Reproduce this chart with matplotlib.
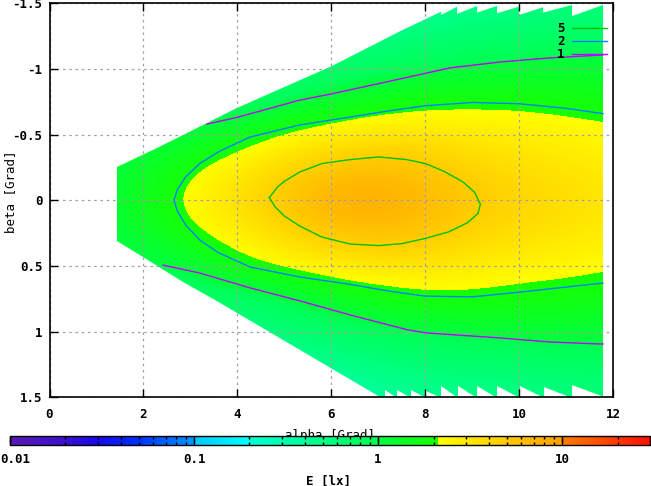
import numpy as np
import matplotlib
matplotlib.use('Agg')
import matplotlib.pyplot as plt
from matplotlib.colors import LinearSegmentedColormap, Normalize, LogNorm
from matplotlib.cm import ScalarMappable
from matplotlib.patches import Polygon
from matplotlib.ticker import FixedLocator, FormatStrFormatter, FixedFormatter, NullFormatter

plt.rcParams['font.family'] = ['DejaVu Sans Mono']
plt.rcParams['font.weight'] = 'bold'
plt.rcParams['axes.unicode_minus'] = False

# illuminance E [lx], rows = beta, columns = alpha
alpha_grid = [1, 2, 3, 4, 5, 6, 7, 8, 9, 10, 11, 12]
beta_grid = [-1.5, -1.25, -1.0, -0.75, -0.5, -0.25, 0.0, 0.25, 0.5, 0.75, 1.0, 1.25, 1.5]
E_table = [
    [0.18, 0.21, 0.22, 0.23, 0.26, 0.31, 0.35, 0.40, 0.46, 0.48, 0.54, 0.56],
    [0.25, 0.29, 0.31, 0.33, 0.38, 0.46, 0.54, 0.60, 0.69, 0.72, 0.79, 0.81],
    [0.35, 0.41, 0.45, 0.47, 0.56, 0.72, 0.83, 0.93, 1.05, 1.14, 1.17, 1.17],
    [0.50, 0.60, 0.68, 0.72, 0.93, 1.26, 1.55, 1.82, 1.93, 1.92, 1.80, 1.76],
    [0.72, 0.93, 1.12, 1.51, 2.21, 2.69, 3.16, 3.16, 2.85, 2.69, 2.51, 2.24],
    [1.00, 1.32, 1.95, 2.77, 3.96, 5.25, 5.90, 5.25, 4.17, 3.53, 3.16, 2.75],
    [1.15, 1.55, 2.40, 3.70, 5.50, 7.80, 8.40, 6.70, 5.20, 4.30, 3.72, 3.16],
    [1.00, 1.32, 1.95, 2.77, 3.96, 5.37, 6.10, 5.30, 4.17, 3.53, 3.16, 2.75],
    [0.72, 0.93, 1.12, 1.78, 2.30, 2.75, 3.16, 3.16, 2.85, 2.57, 2.40, 2.16],
    [0.50, 0.63, 0.72, 0.79, 0.98, 1.34, 1.62, 1.91, 1.93, 1.79, 1.72, 1.68],
    [0.35, 0.43, 0.49, 0.50, 0.62, 0.76, 0.89, 1.01, 1.09, 1.13, 1.15, 1.15],
    [0.25, 0.30, 0.35, 0.33, 0.41, 0.48, 0.56, 0.65, 0.69, 0.72, 0.79, 0.81],
    [0.18, 0.22, 0.25, 0.23, 0.28, 0.32, 0.37, 0.43, 0.46, 0.48, 0.54, 0.56],
]

# outline of the area that has data (alpha, beta)
edge_upper = [(1.437, -0.254), (2.288, -0.398), (3.991, -0.703), (6.013, -1.023),
              (7.460, -1.287), (7.993, -1.378), (8.334, -1.436), (8.334, -1.411),
              (8.674, -1.474), (8.674, -1.419), (9.100, -1.480), (9.100, -1.429),
              (9.525, -1.480), (9.525, -1.424), (9.994, -1.474), (9.994, -1.411),
              (10.505, -1.470), (10.505, -1.429), (11.122, -1.487), (11.122, -1.403),
              (11.781, -1.487)]
edge_lower = [(1.437, 0.310), (1.990, 0.432), (2.842, 0.622), (3.523, 0.759),
              (7.141, 1.520), (7.141, 1.445), (7.397, 1.505), (7.397, 1.445),
              (7.695, 1.505), (7.695, 1.445), (8.014, 1.505), (8.014, 1.452),
              (8.334, 1.505), (8.334, 1.414), (8.695, 1.505), (8.695, 1.414),
              (9.100, 1.505), (9.100, 1.414), (9.525, 1.505), (9.525, 1.414),
              (10.015, 1.505), (10.015, 1.414), (10.526, 1.505), (10.526, 1.422),
              (11.122, 1.505), (11.122, 1.407), (11.781, 1.494)]

# iso lines E = 5, 2, 1
iso5_alpha = [4.68, 4.85, 5.0, 5.33, 5.8, 6.4, 7.0, 7.6, 8.0, 8.4, 8.8, 9.05, 9.17,
              9.12, 8.9, 8.5, 8.0, 7.5, 7.0, 6.4, 5.8, 5.33, 5.0, 4.8, 4.68]
iso5_beta = [-0.02, -0.10, -0.145, -0.216, -0.28, -0.31, -0.33, -0.31, -0.28, -0.22, -0.14, -0.06, 0.03,
             0.10, 0.17, 0.24, 0.29, 0.33, 0.345, 0.333, 0.28, 0.197, 0.12, 0.05, -0.02]
iso2_alpha = [11.78, 11.0, 10.0, 9.0, 8.0, 7.2, 6.4, 5.33, 4.27, 3.6, 3.2, 2.9, 2.72, 2.65,
              2.72, 2.9, 3.2, 3.6, 4.27, 5.33, 6.4, 7.2, 8.0, 9.0, 10.0, 11.0, 11.78]
iso2_beta = [-0.66, -0.70, -0.735, -0.745, -0.72, -0.68, -0.634, -0.574, -0.482, -0.37, -0.28, -0.18, -0.08, 0.0,
             0.08, 0.19, 0.303, 0.40, 0.508, 0.584, 0.64, 0.69, 0.73, 0.735, 0.70, 0.66, 0.63]
iso1_up_alpha = [3.35, 4.0, 5.33, 6.0, 7.46, 8.52, 9.59, 10.65, 11.78]
iso1_up_beta = [-0.58, -0.632, -0.763, -0.81, -0.924, -1.008, -1.053, -1.084, -1.107]
iso1_lo_alpha = [2.42, 3.20, 4.27, 5.33, 6.40, 7.63, 8.03, 9.59, 10.65, 11.71, 11.78]
iso1_lo_beta = [0.494, 0.554, 0.667, 0.766, 0.873, 0.987, 1.01, 1.048, 1.079, 1.094, 1.094]

E_min, E_max = 0.01, 30.0
cb_ticks = [0.01, 0.1, 1, 10]
cb_labels = ['', '0.1', '1', '10']

# gnuplot-like palette over log10(E)
def pos(e):
    return (np.log10(e) - np.log10(E_min)) / (np.log10(E_max) - np.log10(E_min))

eps = 1e-4
stops = [
    (0.0, '#5a1ab4'), (pos(0.02), '#3a10cf'), (pos(0.03), '#1a08e8'), (pos(0.05), '#0030ff'),
    (pos(0.1) - eps, '#0098ff'), (pos(0.1), '#00c8ff'), (pos(0.2), '#00ffff'),
    (pos(0.2) + eps, '#00ffd0'), (pos(1.0) - eps, '#00ff50'), (pos(1.0), '#00ff40'),
    (pos(2.1) - eps, '#18ff00'), (pos(2.1), '#ffff00'), (pos(10.0) - eps, '#ffa000'),
    (pos(10.0), '#ff7c00'), (1.0, '#ff1000'),
]
cmap = LinearSegmentedColormap.from_list('gp', stops, N=1024)

W, H = 651, 486
fig = plt.figure(figsize=(W / 100, H / 100), dpi=100)
ax = fig.add_axes([49.5 / W, 1 - 397.3 / H, 563.8 / W, 394 / H])

da = alpha_grid[1] - alpha_grid[0]
db = beta_grid[1] - beta_grid[0]
extent = [alpha_grid[0] - da / 2, alpha_grid[-1] + da / 2,
          beta_grid[0] - db / 2, beta_grid[-1] + db / 2]
logE = np.log10(np.array(E_table))
im = ax.imshow(logE, origin='lower', extent=extent, aspect='auto', cmap=cmap,
               norm=Normalize(np.log10(E_min), np.log10(E_max)),
               interpolation='bicubic', interpolation_stage='data', zorder=0)
outline = edge_upper + [(11.781, 1.6)] + edge_lower[::-1]
clip = Polygon(outline, closed=True, transform=ax.transData)
im.set_clip_path(clip)

l5, = ax.plot(iso5_alpha, iso5_beta, color='#00c000', lw=1.0, label='5')
l2, = ax.plot(iso2_alpha, iso2_beta, color='#0080ff', lw=1.0, label='2')
l1, = ax.plot(iso1_up_alpha, iso1_up_beta, color='#c000ff', lw=1.0, label='1')
ax.plot(iso1_lo_alpha, iso1_lo_beta, color='#c000ff', lw=1.0)

ax.set_xlim(0, 12)
ax.set_ylim(1.5, -1.5)
ax.xaxis.set_major_locator(FixedLocator([0, 2, 4, 6, 8, 10, 12]))
ax.yaxis.set_major_locator(FixedLocator([-1.5, -1, -0.5, 0, 0.5, 1, 1.5]))
ax.xaxis.set_major_formatter(FormatStrFormatter('%g'))
ax.yaxis.set_major_formatter(FormatStrFormatter('%g'))
ax.tick_params(direction='in', length=6, width=1, top=True, right=False,
               labelsize=9, colors='black')
ax.tick_params(axis='x', pad=8)
ax.tick_params(axis='y', pad=5)
ax.grid(True, color='#a0a0a0', linestyle=(0, (2, 3)), linewidth=0.9)
for s in ax.spines.values():
    s.set_linewidth(1.2)

ax.set_xlabel('alpha [Grad]', fontsize=9, va='center')
ax.xaxis.set_label_coords(0.4975, -0.096)
ax.set_ylabel('beta [Grad]', fontsize=9, va='center')
ax.yaxis.set_label_coords(-0.069, 0.521)

leg = ax.legend(handles=[l5, l2, l1], loc='upper right', bbox_to_anchor=(0.9888, 0.9525),
                frameon=False, markerfirst=False, handlelength=2.8, handletextpad=0.6,
                labelspacing=0.0, borderpad=0, borderaxespad=0, fontsize=9)

# colour box
cax = fig.add_axes([10 / W, 1 - 445 / H, 640 / W, 9 / H])
sm = ScalarMappable(norm=LogNorm(E_min, E_max), cmap=cmap)
cb = fig.colorbar(sm, cax=cax, orientation='horizontal')
cb.outline.set_linewidth(1.0)
cax.xaxis.set_major_locator(FixedLocator(cb_ticks))
cax.xaxis.set_major_formatter(FixedFormatter(cb_labels))
minor = [m * d for d in cb_ticks for m in range(2, 10) if m * d < E_max]
cax.xaxis.set_minor_locator(FixedLocator(minor))
cax.xaxis.set_minor_formatter(NullFormatter())
cax.tick_params(which='major', direction='in', length=4.5, width=1, top=True, labelsize=9, pad=6)
cax.tick_params(which='minor', direction='in', length=2.2, width=1, top=True)
# first colour box label sits flush with the left edge of the picture
fig.text(0.0, 1 - 459 / H, '%g' % cb_ticks[0], ha='left', va='center', fontsize=9)
fig.text(329 / W, 1 - 481 / H, 'E [lx]', ha='center', va='center', fontsize=9)

fig.savefig('out.png', dpi=100)
